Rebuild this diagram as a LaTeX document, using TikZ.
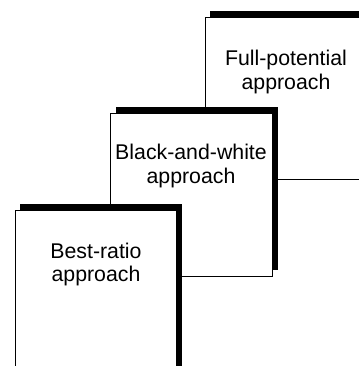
\documentclass[tikz,border=0pt]{standalone}
\usepackage{fontspec}
\setmainfont{Liberation Sans}
\begin{document}
\begin{tikzpicture}[x=1pt,y=-1pt,
  shadowbox/.style={fill=black},
  plainbox/.style={draw=black,line width=0.9pt,fill=white},
  label/.style={inner sep=0pt,align=center,font=\fontsize{21.3}{23.5}\selectfont}]
\useasboundingbox (0,0) rectangle (359,366);
% Full-potential box (runs off the right edge)
\fill[shadowbox] (210,11) rectangle (359,17);
\fill[white] (205,17) rectangle (359,179);
\draw[plainbox,fill=none] (359,17) -- (205,17) -- (205,179) -- (359,179);
\node[label] (full) at (286,72) {Full-potential\\approach};
% Black-and-white box
\fill[shadowbox] (116,107) rectangle (278,270);
\draw[plainbox] (110,113) rectangle (272,276);
\node[label] (bw) at (191,166) {Black-and-white\\approach};
% Best-ratio box (runs off the bottom edge)
\fill[shadowbox] (20,204) rectangle (182,366);
\fill[white] (15,210) rectangle (176,366);
\draw[plainbox,fill=none] (15,366) -- (15,210) -- (176,210) -- (176,366);
\node[label] (best) at (96,264.5) {Best-ratio\\approach};
\end{tikzpicture}
\end{document}
